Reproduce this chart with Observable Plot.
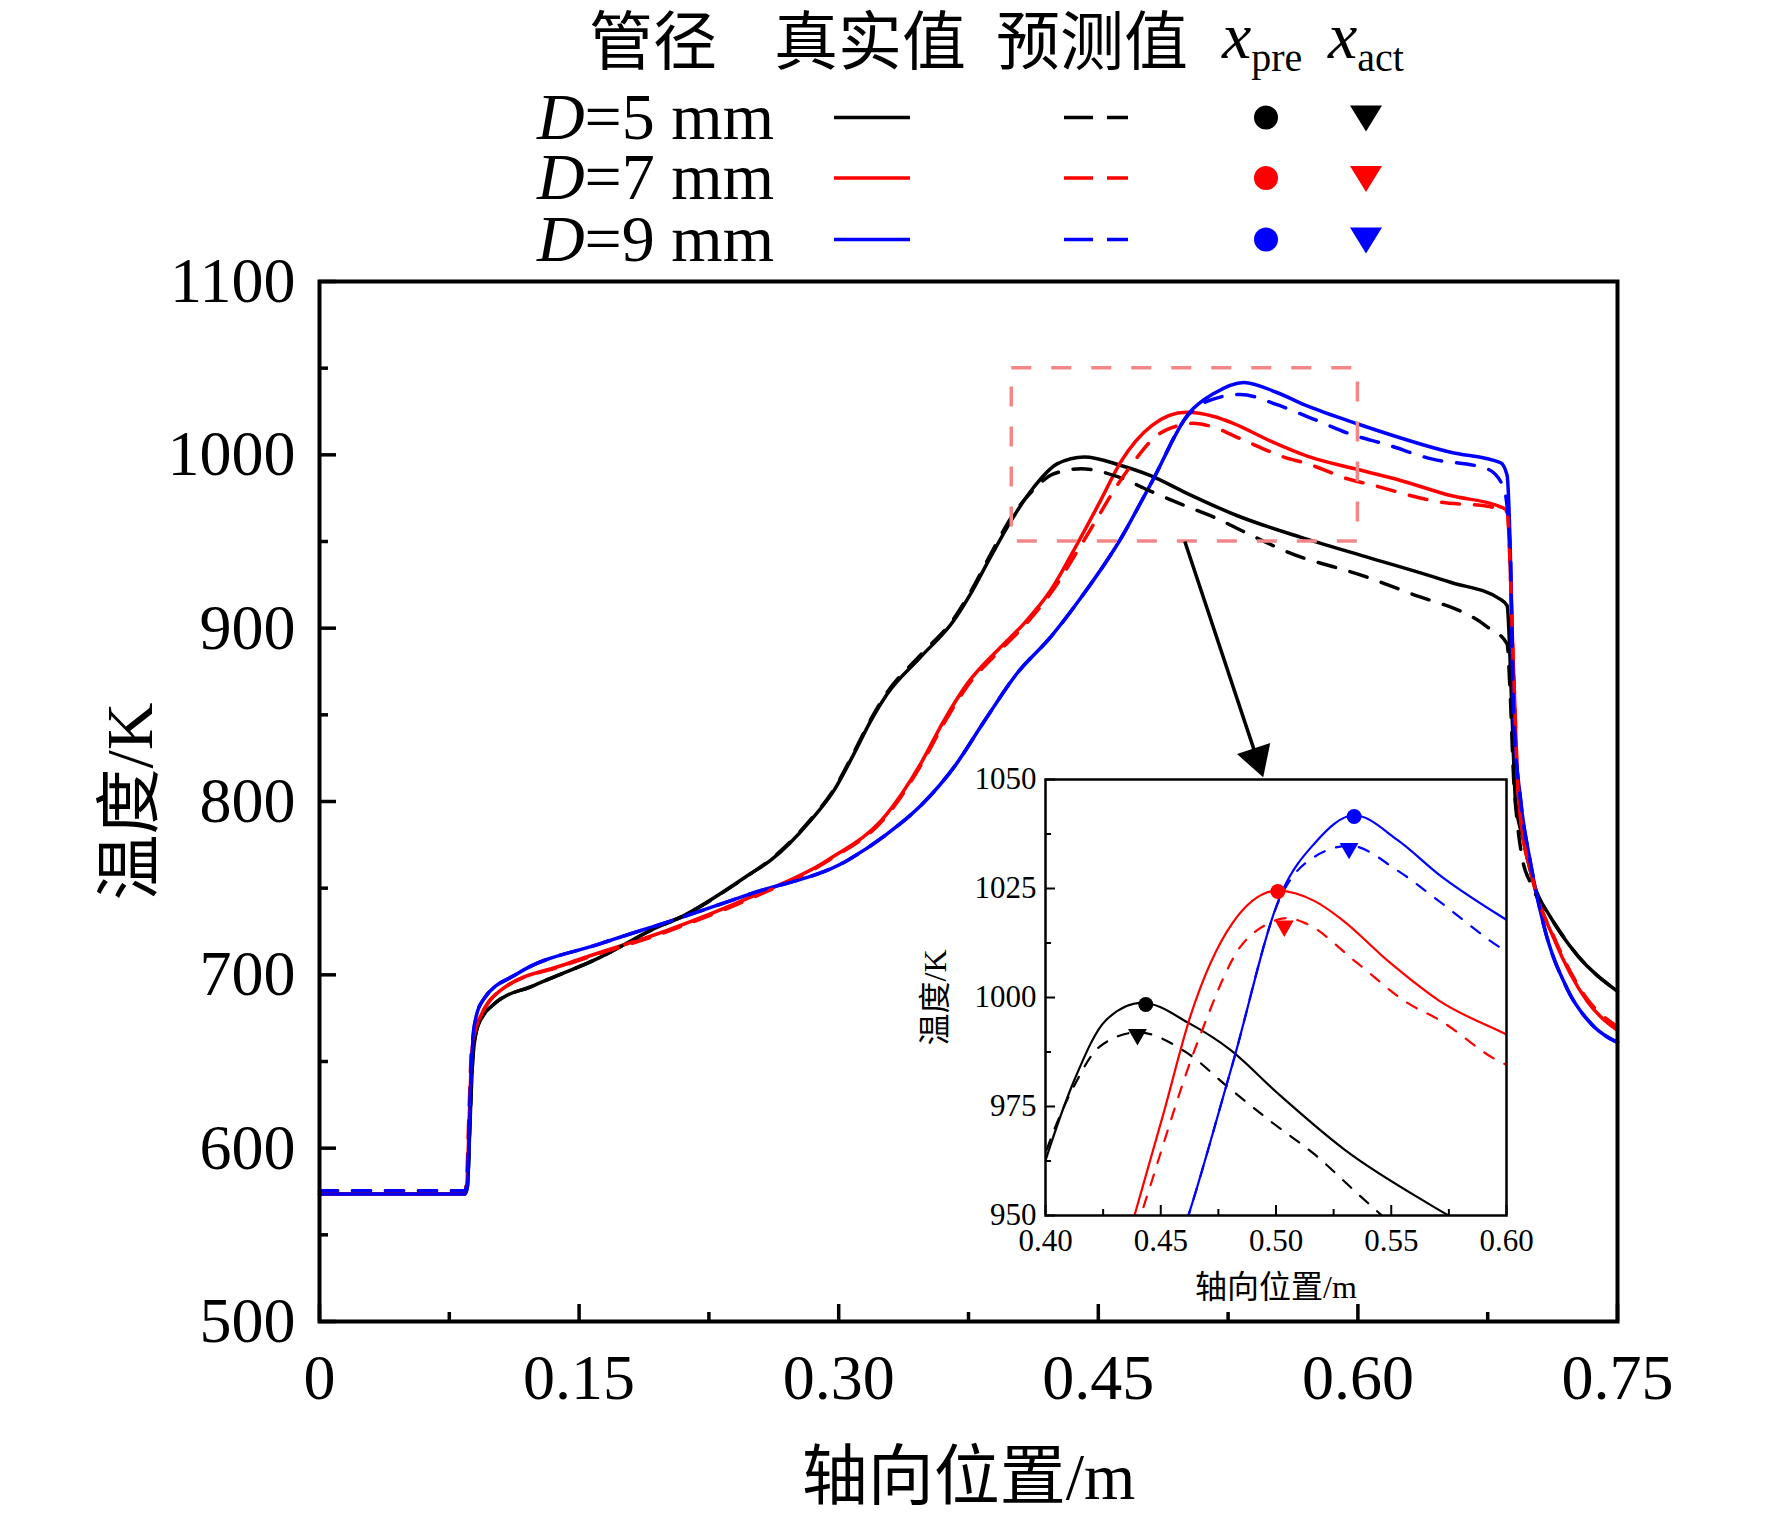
<!DOCTYPE html>
<html>
<head>
<meta charset="utf-8">
<script src="https://cdn.jsdelivr.net/npm/d3@7"></script>
<script src="https://cdn.jsdelivr.net/npm/@observablehq/plot@0.6"></script>
<style>
  body { margin: 0; background: #fff; }
  #chart { position: relative; width: 1772px; height: 1520px; }
  #chart > * { position: absolute; }
</style>
</head>
<body>
<div id="chart"></div>
<script>
// axial position (m) and temperature (K)
const x5Act = [0, 0.084, 0.0855, 0.0868, 0.0882, 0.0905, 0.095, 0.1007, 0.1238, 0.1624, 0.1913, 0.2105, 0.249, 0.2606, 0.2837, 0.2972, 0.3088, 0.3186, 0.328, 0.3473, 0.3665, 0.3762, 0.3877, 0.3993, 0.4127, 0.4262, 0.442, 0.4626, 0.4802, 0.5006, 0.53, 0.5668, 0.6054, 0.6535, 0.6824, 0.6862, 0.6891, 0.691, 0.6958, 0.7016, 0.7113, 0.7267, 0.75]
const t5Act = [573.5, 573.5, 578, 610, 645, 667, 677, 683, 693.8, 710.2, 725.6, 734.2, 758.3, 766, 789, 806.3, 827.5, 846.7, 862, 883.3, 904.4, 919.8, 941, 961.5, 981.3, 994.8, 998.8, 994, 988, 978.1, 965, 952.5, 941, 926.5, 916.6, 913, 849.8, 801, 777, 752.7, 733.3, 711.4, 690.5]
const x5Pre = [0, 0.084, 0.0855, 0.0868, 0.0882, 0.0905, 0.095, 0.1007, 0.1238, 0.1624, 0.1913, 0.2105, 0.249, 0.2606, 0.2837, 0.2972, 0.3088, 0.3186, 0.328, 0.3473, 0.3665, 0.3762, 0.3877, 0.401, 0.4126, 0.4234, 0.44, 0.4611, 0.4791, 0.4989, 0.5168, 0.5348, 0.5438, 0.5572, 0.6054, 0.6285, 0.6747, 0.6862, 0.688, 0.69, 0.692, 0.695, 0.6997, 0.7113, 0.7267, 0.75]
const t5Pre = [575.5, 575.5, 580, 612, 646, 667, 677, 683, 693.8, 710.2, 725.6, 734.2, 758.3, 766.5, 789.5, 807, 828.5, 847.5, 863, 884.5, 905.5, 921, 942.5, 965.8, 979.9, 988.7, 992, 987.4, 979.5, 971.1, 964, 955.3, 951, 944.8, 929.4, 920.7, 900.8, 891, 862, 813, 789, 767, 753, 733.3, 711.4, 690.5]

const x7Act = [0, 0.084, 0.0852, 0.0866, 0.088, 0.09, 0.093, 0.0975, 0.1046, 0.1431, 0.2009, 0.249, 0.2933, 0.328, 0.3473, 0.3608, 0.3743, 0.3935, 0.4069, 0.4224, 0.4386, 0.4513, 0.4629, 0.4809, 0.5008, 0.5168, 0.5283, 0.5492, 0.5707, 0.6, 0.6246, 0.6535, 0.6824, 0.6862, 0.69, 0.6929, 0.7016, 0.7132, 0.7325, 0.75]
const t7Act = [573.5, 573.5, 580, 620, 655, 668, 676, 684, 691, 706.4, 725.6, 744.8, 766, 793, 821.7, 846.7, 868, 889, 902.5, 921.7, 950, 973.6, 995.8, 1016.9, 1024.5, 1022.1, 1018, 1008.1, 999.3, 991.5, 985.2, 976.5, 970, 967.7, 874, 801, 752.7, 721, 684.7, 668]
const x7Pre = [0, 0.084, 0.085, 0.0864, 0.0878, 0.09, 0.093, 0.0975, 0.1046, 0.1431, 0.2009, 0.249, 0.2933, 0.328, 0.3473, 0.3608, 0.3743, 0.3935, 0.4069, 0.4224, 0.4413, 0.4665, 0.4845, 0.495, 0.505, 0.5129, 0.5348, 0.5572, 0.5707, 0.5959, 0.6054, 0.6477, 0.6766, 0.6862, 0.69, 0.6929, 0.7016, 0.7132, 0.7325, 0.75]
const t7Pre = [575.5, 575.5, 582, 622, 656, 668, 676, 684, 691, 706, 725, 744, 765.5, 792, 820.5, 845, 866.5, 887.5, 901, 920, 950, 990.5, 1011.6, 1016.5, 1018.2, 1017, 1008.1, 998.7, 994.9, 985.6, 983.3, 972.7, 970, 967, 874, 801, 752.7, 722, 686, 670]

const x9Act = [0, 0.084, 0.0855, 0.0868, 0.0882, 0.0905, 0.0949, 0.1142, 0.1624, 0.2067, 0.249, 0.305, 0.328, 0.3473, 0.3675, 0.3839, 0.4031, 0.4224, 0.4416, 0.462, 0.4809, 0.5024, 0.5168, 0.534, 0.5528, 0.5707, 0.6, 0.6535, 0.6824, 0.6862, 0.688, 0.69, 0.694, 0.6997, 0.7074, 0.7209, 0.7363, 0.75]
const t9Act = [573.5, 573.5, 578, 615, 655, 676, 686, 700.6, 718, 732.3, 746.7, 766, 781.3, 797.5, 821, 846, 874, 894.8, 919.8, 950, 984.3, 1024, 1035.4, 1041.8, 1036.1, 1028.2, 1017.8, 1001.5, 995.5, 988.2, 947, 850, 801, 764.8, 728.5, 692, 670.2, 661]
const x9Pre = [0, 0.084, 0.0853, 0.0866, 0.088, 0.0905, 0.0949, 0.1142, 0.1624, 0.2067, 0.249, 0.305, 0.328, 0.3473, 0.3675, 0.3839, 0.4031, 0.4224, 0.4416, 0.462, 0.4809, 0.5024, 0.5132, 0.532, 0.5528, 0.5707, 0.5995, 0.615, 0.6419, 0.6747, 0.6843, 0.688, 0.69, 0.694, 0.6997, 0.7074, 0.7209, 0.7363, 0.75]
const t9Pre = [575.5, 575.5, 581, 618, 656, 676, 686, 700.6, 718, 732.3, 746.7, 766, 781.3, 797.5, 821, 846, 874, 894.8, 919.8, 950, 984.3, 1023.5, 1031, 1034.8, 1029.1, 1022.1, 1010.7, 1006.4, 997.8, 991.9, 981, 945, 850, 801, 764.8, 728.5, 692, 670.2, 661]

// peak positions shown in the inset
const peakPreX = [0.4435, 0.5008, 0.5339]
const peakPreT = [998.4, 1024.3, 1041.5]
const peakActX = [0.4399, 0.5036, 0.5317]
const peakActT = [991.5, 1016.4, 1034.2]

const diameters = [5, 7, 9]
const colors = ['#000000', '#ff0000', '#0000ff']

const xMajor = [0, 0.15, 0.3, 0.45, 0.6, 0.75]
const xMinor = [0.075, 0.225, 0.375, 0.525, 0.675]
const yMajor = [500, 600, 700, 800, 900, 1000, 1100]
const yMinor = [550, 650, 750, 850, 950, 1050]

const insetXMajor = [0.4, 0.45, 0.5, 0.55, 0.6]
const insetXMinor = [0.425, 0.475, 0.525, 0.575]
const insetYMajor = [950, 975, 1000, 1025, 1050]
const insetYMinor = [962.5, 987.5, 1012.5, 1037.5]

// zoom box and arrow pointing to the inset
const zoomBox = { x1: 0.4, x2: 0.6, y1: 950, y2: 1050 }
const arrowLine = { x1: 0.5, y1: 950, x2: 0.5416, y2: 825 }

const xTitle = '轴向位置/m'
const yTitle = '温度/K'
const heads = ['管径', '真实值', '预测值']

const FONT = "'Liberation Serif', 'Noto Sans CJK SC', serif"

const rows = (xs, ts) => xs.map((x, i) => ({ x, t: ts[i] }))
const series = [
  { act: rows(x5Act, t5Act), pre: rows(x5Pre, t5Pre) },
  { act: rows(x7Act, t7Act), pre: rows(x7Pre, t7Pre) },
  { act: rows(x9Act, t9Act), pre: rows(x9Pre, t9Pre) },
].map((s, i) => ({ ...s, color: colors[i] }))

const peaksPre = peakPreX.map((x, i) => ({ x, t: peakPreT[i], color: colors[i] }))
const peaksAct = peakActX.map((x, i) => ({ x, t: peakActT[i], color: colors[i] }))

function curveMarks(width, dash, extra) {
  const marks = []
  series.forEach(s => marks.push(Plot.line(s.act, { x: 'x', y: 't', stroke: s.color, strokeWidth: width, curve: 'monotone-x', ...extra })))
  series.forEach(s => marks.push(Plot.line(s.pre, { x: 'x', y: 't', stroke: s.color, strokeWidth: width, strokeDasharray: dash, curve: 'monotone-x', ...extra })))
  return marks
}

// main chart
const main = Plot.plot({
  width: 1772,
  height: 1300,
  marginTop: 61,
  marginLeft: 319,
  marginRight: 155,
  marginBottom: 199,
  x: { domain: [0, 0.75] },
  y: { domain: [500, 1100] },
  style: { fontFamily: FONT, fontSize: '64px', background: 'transparent', overflow: 'visible', color: 'black' },
  marks: [
    ...curveMarks(3.5, '18,15'),
    Plot.rect([zoomBox], { x1: 'x1', x2: 'x2', y1: 'y1', y2: 'y2', fill: 'none', stroke: '#f38686', strokeWidth: 3.5, strokeDasharray: '20,20' }),
    Plot.link([arrowLine], { x1: 'x1', y1: 'y1', x2: 'x2', y2: 'y2', stroke: 'black', strokeWidth: 3.5 }),
    Plot.dot([arrowLine], { x: 'x2', y: 'y2', symbol: 'triangle', r: 13, fill: 'black', rotate: 161.6 }),
    Plot.frame({ stroke: 'black', strokeWidth: 4 }),
    Plot.tickX(xMajor, { x: d => d, insetTop: 1040 - 17, strokeWidth: 3.5 }),
    Plot.tickX(xMinor, { x: d => d, insetTop: 1040 - 9, strokeWidth: 3.5 }),
    Plot.tickY(yMajor, { y: d => d, insetRight: 1298 - 17, strokeWidth: 3.5 }),
    Plot.tickY(yMinor, { y: d => d, insetRight: 1298 - 9, strokeWidth: 3.5 }),
    Plot.axisX({ ticks: xMajor, tickSize: 0, tickPadding: 32, tickFormat: d => (d === 0 ? '0' : d.toFixed(2)), label: null }),
    Plot.axisY({ ticks: yMajor, tickSize: 0, tickPadding: 24, tickFormat: d => String(d), label: null }),
    Plot.text([xTitle], { frameAnchor: 'bottom', lineAnchor: 'middle', textAnchor: 'middle', dy: 156, fontSize: 66 }),
    Plot.text([yTitle], { frameAnchor: 'left', lineAnchor: 'middle', textAnchor: 'middle', dx: -189, rotate: -90, fontSize: 66 }),
  ],
})
main.style.left = '0px'
main.style.top = '220px'

// inset, zoomed on the peaks
const inset = Plot.plot({
  width: 601,
  height: 550,
  marginTop: 19,
  marginLeft: 125,
  marginRight: 15,
  marginBottom: 95,
  x: { domain: [0.4, 0.6] },
  y: { domain: [950, 1050] },
  style: { fontFamily: FONT, fontSize: '31px', background: 'transparent', overflow: 'visible', color: 'black' },
  marks: [
    Plot.frame({ fill: 'white' }),
    ...curveMarks(2.2, '11,12', { clip: true }),
    Plot.dot(peaksPre, { x: 'x', y: 't', r: 7.5, fill: 'color' }),
    Plot.dot(peaksAct, { x: 'x', y: 't', r: 7, symbol: 'triangle', rotate: 180, fill: 'color' }),
    Plot.frame({ stroke: 'black', strokeWidth: 2.5 }),
    Plot.tickX(insetXMajor, { x: d => d, insetTop: 436 - 10, strokeWidth: 2 }),
    Plot.tickX(insetXMinor, { x: d => d, insetTop: 436 - 6, strokeWidth: 2 }),
    Plot.tickY(insetYMajor, { y: d => d, insetRight: 461 - 10, strokeWidth: 2 }),
    Plot.tickY(insetYMinor, { y: d => d, insetRight: 461 - 6, strokeWidth: 2 }),
    Plot.axisX({ ticks: insetXMajor, tickSize: 0, tickPadding: 13, tickFormat: d => d.toFixed(2), label: null }),
    Plot.axisY({ ticks: insetYMajor, tickSize: 0, tickPadding: 9, tickFormat: d => String(d), label: null }),
    Plot.text([xTitle], { frameAnchor: 'bottom', lineAnchor: 'middle', textAnchor: 'middle', dy: 72, fontSize: 32 }),
    Plot.text([yTitle], { frameAnchor: 'left', lineAnchor: 'middle', textAnchor: 'middle', dx: -110, rotate: -90, fontSize: 32 }),
  ],
})
inset.style.left = '920px'
inset.style.top = '760px'

// legend above the chart
const legend = d3.create('svg')
  .attr('width', 1772)
  .attr('height', 280)
  .style('left', '0px')
  .style('top', '0px')
  .style('font-family', FONT)

const headX = [653, 870, 1092]
heads.forEach((h, i) => {
  legend.append('text').attr('x', headX[i]).attr('y', 64).attr('text-anchor', 'middle')
    .attr('font-size', 64).text(h)
})
const subHead = (x, sub) => {
  const t = legend.append('text').attr('x', x).attr('y', 58).attr('font-size', 66)
  t.append('tspan').attr('font-style', 'italic').text('x')
  t.append('tspan').attr('font-size', 40).attr('dy', 13).text(sub)
}
subHead(1222, 'pre')
subHead(1328, 'act')

const rowY = [117.5, 178, 239.5]
diameters.forEach((d, i) => {
  const y = rowY[i]
  const c = colors[i]
  const t = legend.append('text').attr('x', 774).attr('y', y + 21).attr('text-anchor', 'end').attr('font-size', 66)
  t.append('tspan').attr('font-style', 'italic').text('D')
  t.append('tspan').text(`=${d} mm`)
  legend.append('line').attr('x1', 834).attr('x2', 910).attr('y1', y).attr('y2', y)
    .attr('stroke', c).attr('stroke-width', 3.5)
  legend.append('line').attr('x1', 1064).attr('x2', 1128).attr('y1', y).attr('y2', y)
    .attr('stroke', c).attr('stroke-width', 3.5).attr('stroke-dasharray', '29,14')
  legend.append('circle').attr('cx', 1266).attr('cy', y).attr('r', 12).attr('fill', c)
  legend.append('path').attr('d', `M1350,${y - 12}L1382,${y - 12}L1366,${y + 14}Z`).attr('fill', c)
})

const root = d3.select('#chart')
root.append(() => main)
root.append(() => inset)
root.append(() => legend.node())
</script>
</body>
</html>
